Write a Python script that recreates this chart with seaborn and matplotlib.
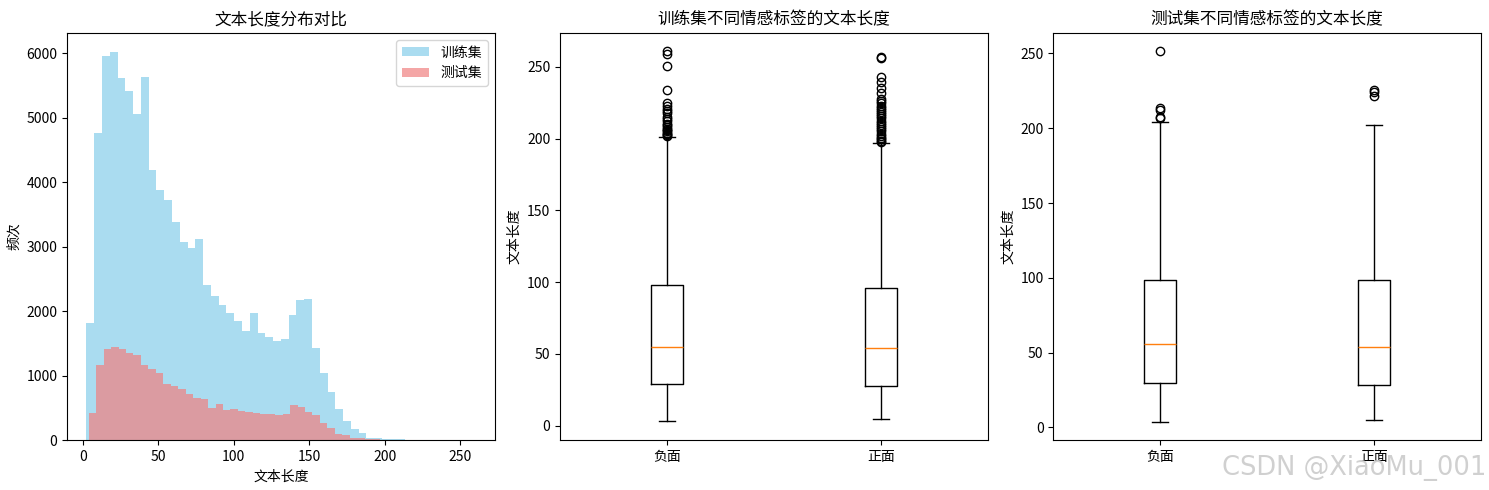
import numpy as np
import pandas as pd
import matplotlib
matplotlib.use("Agg")
import matplotlib.pyplot as plt
import seaborn as sns

plt.rcParams['font.family'] = ['Noto Sans CJK SC', 'DejaVu Sans']
plt.rcParams['axes.unicode_minus'] = False

# histogram: 50 bins each, counts
train_min, train_max = 2.5, 260.0
train_counts = [1819, 4772, 5953, 6016, 5611, 5409, 5067, 5627, 4197, 3886,
                3731, 3389, 3067, 2984, 3124, 2409, 2238, 2098, 1974, 1850,
                1694, 1974, 1663, 1601, 1539, 1570, 1943, 2176, 2192, 1430,
                1041, 746, 482, 295, 171, 109, 31, 31, 16, 16,
                8, 6, 5, 3, 2, 1, 1, 1, 1, 4]
test_min, test_max = 4.0, 251.0
test_counts = [420, 1166, 1415, 1446, 1415, 1352, 1321, 1166, 1104, 1041,
               870, 839, 793, 715, 653, 637, 497, 560, 466, 482,
               451, 435, 420, 404, 404, 389, 404, 544, 513, 435,
               389, 264, 187, 93, 78, 31, 31, 16, 10, 5,
               3, 2, 2, 1, 3, 1, 0, 0, 0, 1]

# boxplot summaries: 负面 / 正面
labels = ['负面', '正面']
train_q1 = [29.2, 27.8]
train_med = [55.0, 54.3]
train_q3 = [98.1, 95.8]
train_lo = [2.8, 4.2]
train_hi = [201.3, 196.7]
train_fliers = [
    [260.7, 259.3, 250.3, 233.8, 224.5, 222.9, 220.6, 219, 217.5, 215, 213.5,
     212, 210.5, 209.5, 208, 207, 206, 205, 204, 203.2, 202.5, 202],
    [257.2, 256.4, 242.6, 239.1, 235.6, 232.1, 227.5, 226, 224.5, 223, 221.5,
     220, 218.5, 217, 215.5, 214, 212.5, 211, 209.5, 208, 206.5, 205, 203.5,
     202, 200.5, 199.7, 198.5, 197.5],
]
test_q1 = [29.6, 28.1]
test_med = [55.5, 54.1]
test_q3 = [98.9, 98.3]
test_lo = [4.0, 5.3]
test_hi = [203.9, 201.9]
test_fliers = [
    [251.3, 213.7, 212.5, 207.7, 207.0],
    [225.9, 223.9, 221.5],
]


def make_stats(q1, med, q3, lo, hi, fliers):
    return [dict(q1=q1[i], med=med[i], q3=q3[i], whislo=lo[i], whishi=hi[i],
                 fliers=fliers[i], label=labels[i]) for i in range(len(labels))]


def hist_frame(lo, hi, counts):
    edges = np.linspace(lo, hi, len(counts) + 1)
    centers = (edges[:-1] + edges[1:]) / 2
    return pd.DataFrame({'len': centers, 'n': counts}), list(edges)


fig, axes = plt.subplots(1, 3, figsize=(14.89, 4.9), dpi=100)
fig.subplots_adjust(left=67 / 1489, right=1481 / 1489, bottom=50 / 490,
                    top=457 / 490, wspace=0.153)

# left: overlapping histograms
ax = axes[0]
train_df, train_edges = hist_frame(train_min, train_max, train_counts)
test_df, test_edges = hist_frame(test_min, test_max, test_counts)
sns.histplot(data=train_df, x='len', weights='n', bins=train_edges,
             color='skyblue', alpha=0.7, linewidth=0, label='训练集', ax=ax)
sns.histplot(data=test_df, x='len', weights='n', bins=test_edges,
             color='lightcoral', alpha=0.7, linewidth=0, label='测试集', ax=ax)
ax.set_title('文本长度分布对比')
ax.set_xlabel('文本长度')
ax.set_ylabel('频次')
ax.legend(loc='upper right')

# middle / right: boxplots
for ax, stats, title in [
    (axes[1], make_stats(train_q1, train_med, train_q3, train_lo, train_hi, train_fliers),
     '训练集不同情感标签的文本长度'),
    (axes[2], make_stats(test_q1, test_med, test_q3, test_lo, test_hi, test_fliers),
     '测试集不同情感标签的文本长度'),
]:
    ax.bxp(stats, positions=[1, 2])
    ax.set_title(title)
    ax.set_ylabel('文本长度')

fig.text(0.998, 0.018, 'CSDN @XiaoMu_001', ha='right', va='bottom',
         fontsize=18.5, color='#d0d0d0', family=['DejaVu Sans'])

fig.savefig('out.png', dpi=100)
